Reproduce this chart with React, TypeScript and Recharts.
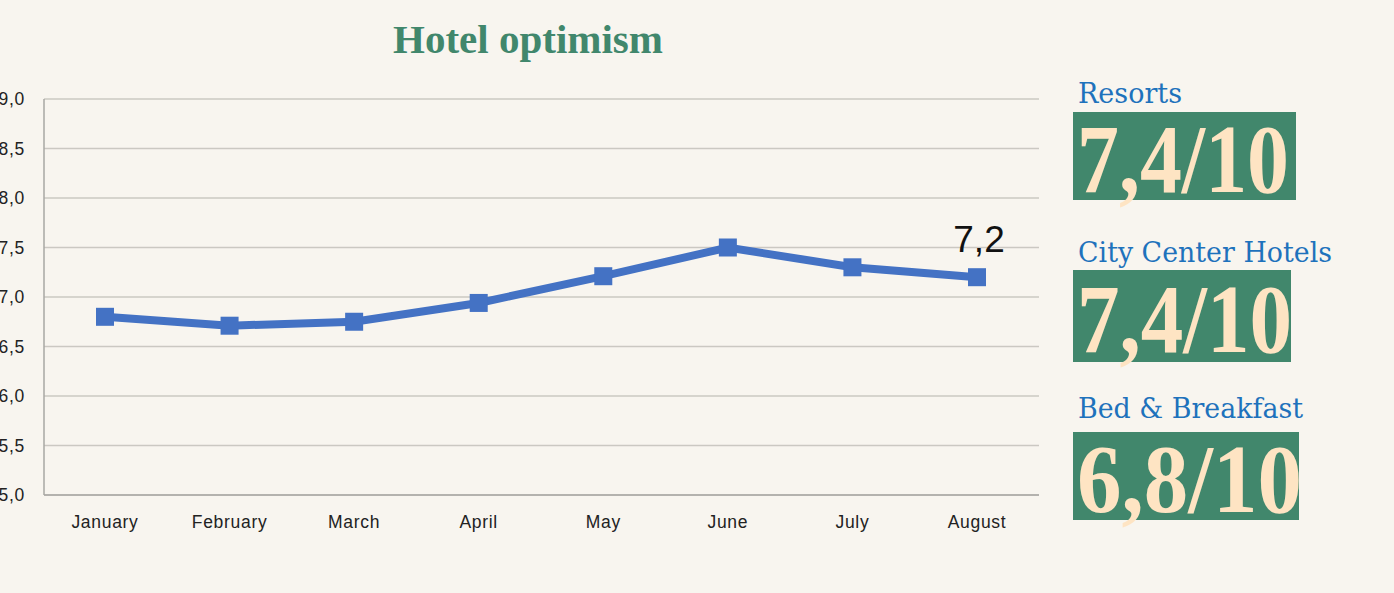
import { CartesianGrid, LabelList, Line, LineChart, XAxis, YAxis } from "recharts";

const months = ["January", "February", "March", "April", "May", "June", "July", "August"];
const optimism = [6.8, 6.71, 6.75, 6.94, 7.21, 7.5, 7.3, 7.2];
const yTicks = [5, 5.5, 6, 6.5, 7, 7.5, 8, 8.5, 9];

const segmentNames = ["Resorts", "City Center Hotels", "Bed & Breakfast"];
const segmentScores = ["7,4/10", "7,4/10", "6,8/10"];

const BG = "#F8F5EF";
const GREEN = "#41876C";
const BLUE = "#4472C4";

const fmt = (v: number) => v.toFixed(1).replace(".", ",");

function SquareDot(p: any) {
  return <rect key={p.index} x={p.cx - 9} y={p.cy - 9} width={18} height={18} fill={BLUE} />;
}

function LastLabel(p: any) {
  if (p.index !== optimism.length - 1) return null;
  return (
    <text x={p.x + 2} y={p.y - 25} textAnchor="middle" fontSize={37} fontFamily="Liberation Sans, Arial, sans-serif" fill="#111">
      {fmt(p.value)}
    </text>
  );
}

// layout of the score panel on the right
const panel = [
  { labelY: 103, labelW: 104, boxY: 112, boxW: 223, boxH: 88, scoreY: 192, scoreW: 212 },
  { labelY: 262, labelW: 254, boxY: 270, boxW: 218, boxH: 92, scoreY: 352, scoreW: 215 },
  { labelY: 418, labelW: 225, boxY: 432, boxW: 226, boxH: 88, scoreY: 512, scoreW: 225 },
];

export default function App() {
  const data = months.map((m, i) => ({ month: m, value: optimism[i] }));
  const tickStyle = { fontSize: 17.5, fill: "#222", fontFamily: "Liberation Sans, Arial, sans-serif", letterSpacing: 0.7 };
  return (
    <div style={{ position: "fixed", left: 0, top: 0, width: 1394, height: 593, background: BG, overflow: "hidden" }}>
      <div style={{ position: "absolute", left: 0, top: 0 }}>
        <LineChart width={1064} height={593} data={data} margin={{ top: 99, right: 25, bottom: 0, left: 0 }}>
          <CartesianGrid vertical={false} stroke="#CBC8C2" strokeWidth={1.3} />
          <XAxis
            dataKey="month"
            height={98}
            tickLine={false}
            tickMargin={15}
            padding={{ left: 61, right: 62 }}
            axisLine={{ stroke: "#A9A7A3", strokeWidth: 1.5 }}
            tick={tickStyle}
            interval={0}
          />
          <YAxis
            width={44}
            domain={[5, 9]}
            ticks={yTicks}
            tickFormatter={fmt}
            tickLine={false}
            tickMargin={13}
            axisLine={{ stroke: "#A9A7A3", strokeWidth: 1.5 }}
            tick={tickStyle}
          />
          <Line
            type="linear"
            dataKey="value"
            stroke={BLUE}
            strokeWidth={8}
            dot={SquareDot}
            activeDot={false}
            isAnimationActive={false}
          >
            <LabelList dataKey="value" content={LastLabel} />
          </Line>
        </LineChart>
      </div>
      <svg width={1394} height={593} style={{ position: "absolute", left: 0, top: 0, pointerEvents: "none" }}>
        <text x={528} y={53} textAnchor="middle" fontSize={41} fontWeight="bold" fill={GREEN} fontFamily="Liberation Serif, serif">
          Hotel optimism
        </text>
        {panel.map((p, i) => (
          <g key={i}>
            <text
              x={1078}
              y={p.labelY}
              fontSize={27}
              fill="#1E72BC"
              fontFamily="DejaVu Serif, serif"
              textLength={p.labelW}
              lengthAdjust="spacingAndGlyphs"
            >
              {segmentNames[i]}
            </text>
            <rect x={1073} y={p.boxY} width={p.boxW} height={p.boxH} fill={GREEN} />
            <text
              x={1077}
              y={p.scoreY}
              fontSize={98}
              fontWeight="bold"
              fill="#FEE4C3"
              fontFamily="Liberation Serif, serif"
              textLength={p.scoreW}
              lengthAdjust="spacingAndGlyphs"
            >
              {segmentScores[i]}
            </text>
          </g>
        ))}
      </svg>
    </div>
  );
}
